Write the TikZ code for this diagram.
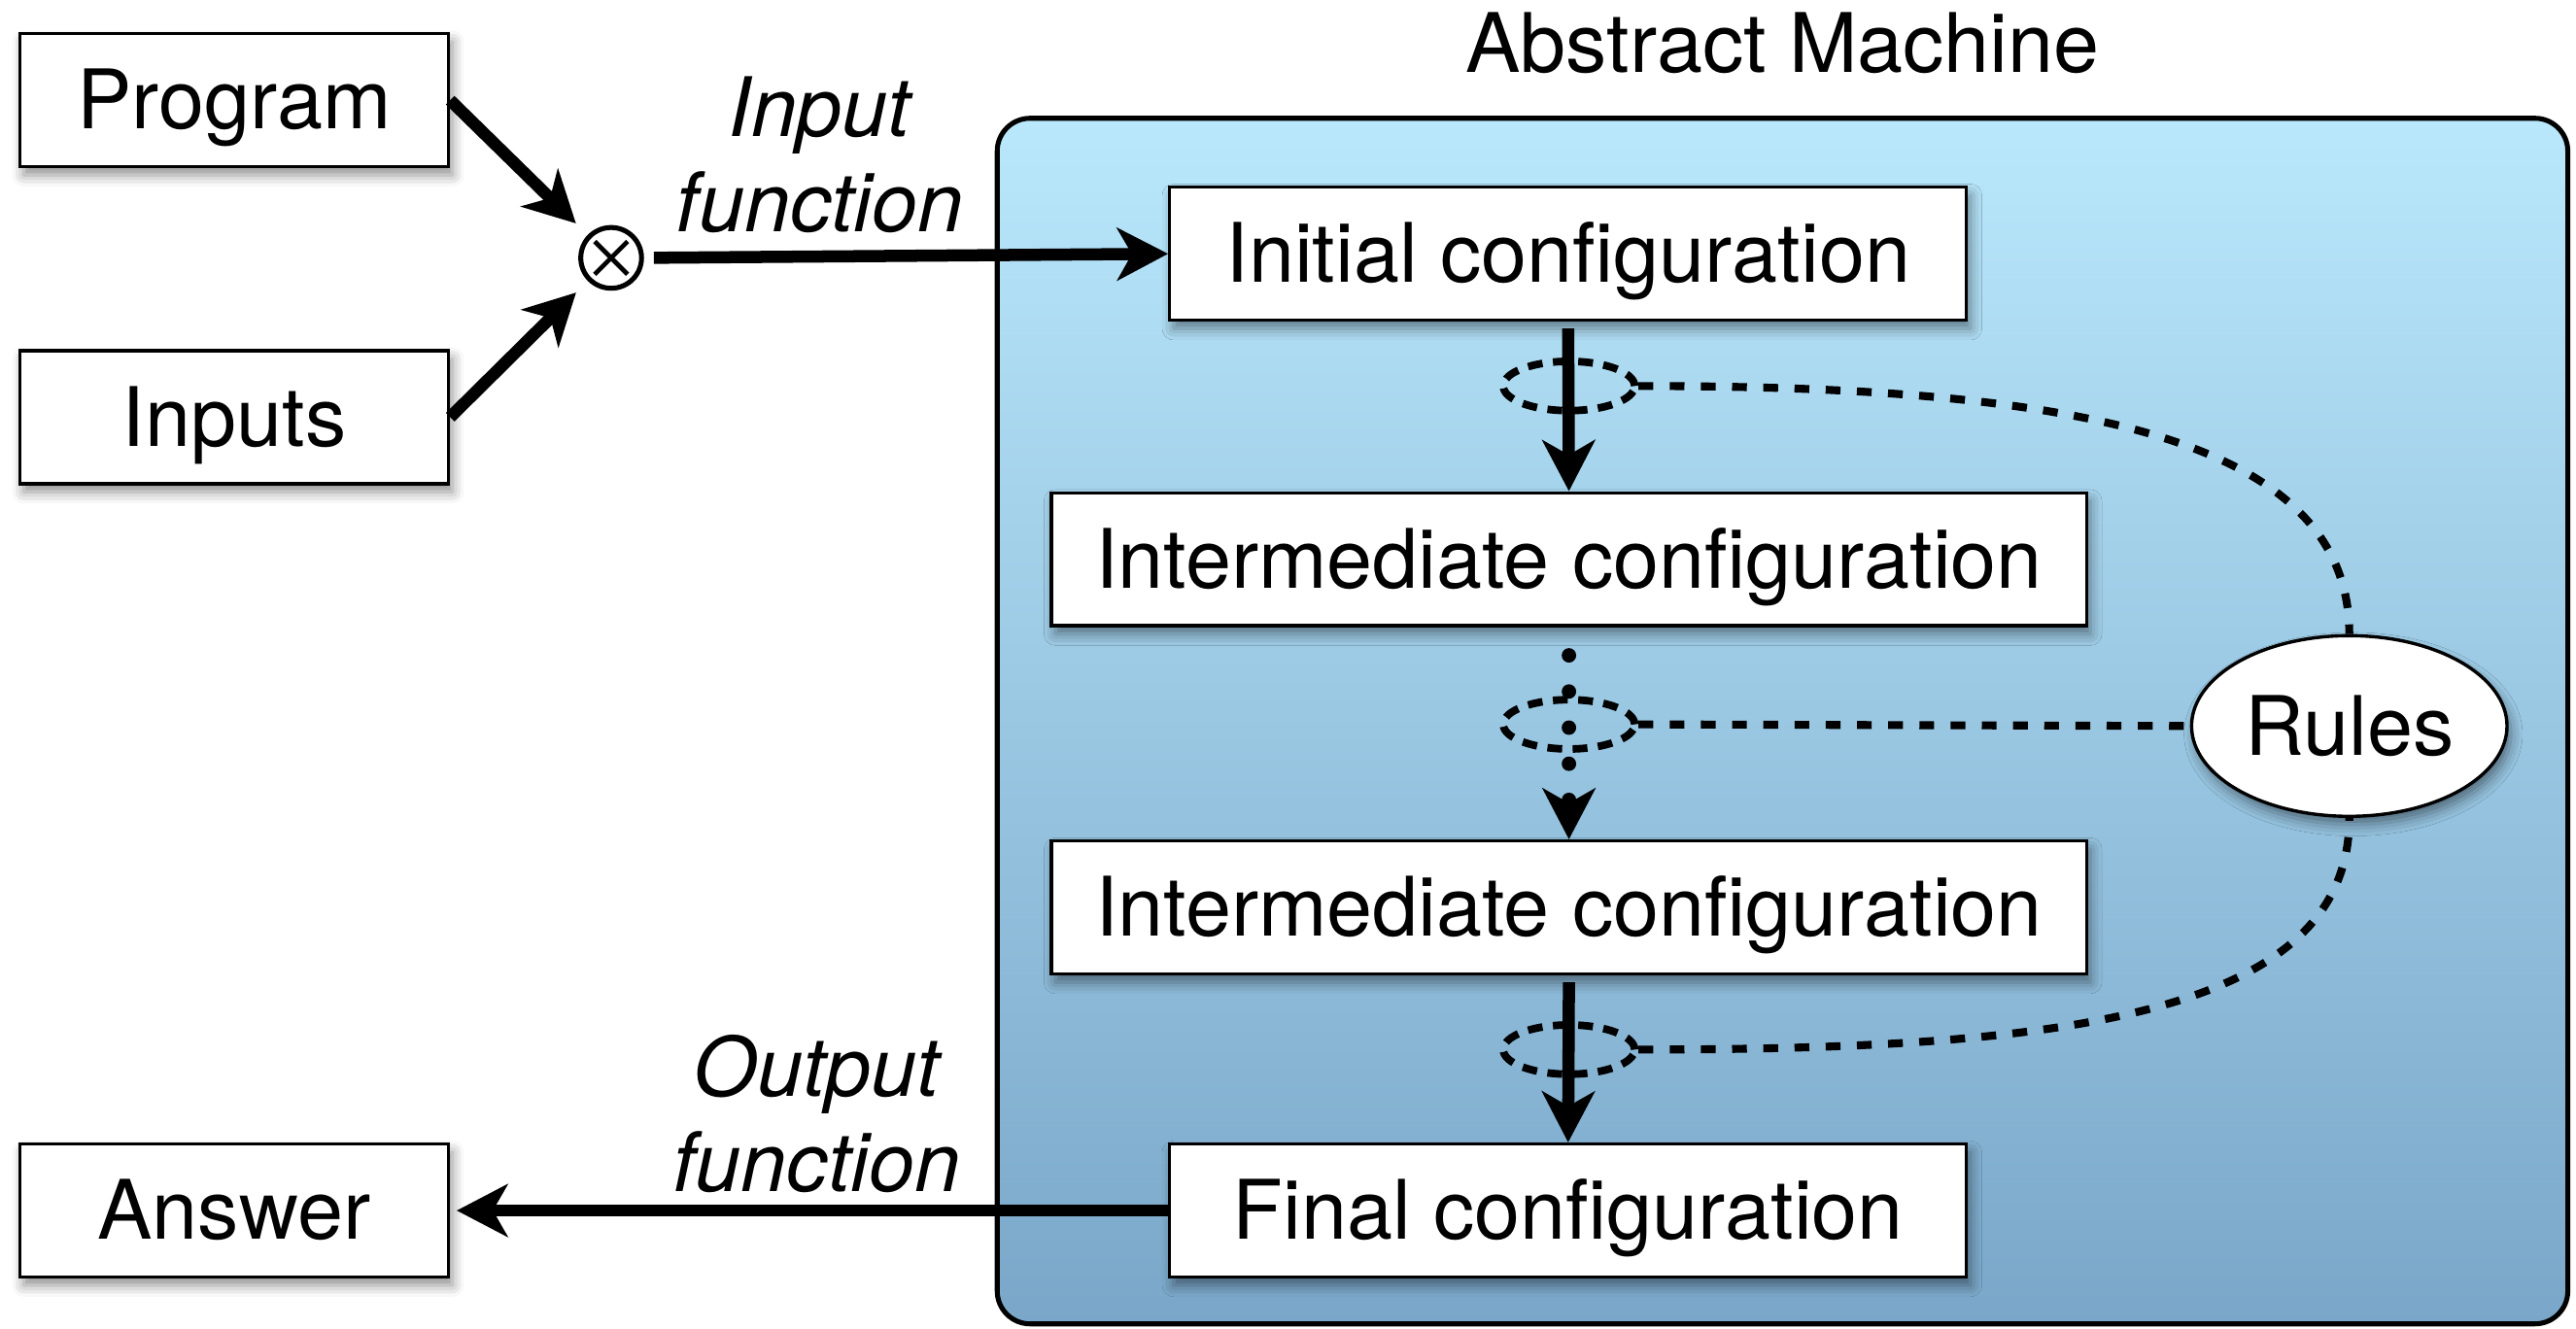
\documentclass[tikz,border=0pt]{standalone}
\usepackage{fontspec}
\setmainfont{TeX Gyre Heros}
\usetikzlibrary{arrows.meta,shapes.geometric,shadows.blur}
\definecolor{machtop}{RGB}{185,231,251}
\definecolor{machbot}{RGB}{122,167,201}
\begin{document}
\begin{tikzpicture}[x=0.5pt,y=-0.5pt,
  txt/.style={font=\fontsize{25}{29}\selectfont},
  shad/.style={blur shadow={shadow xshift=1.2pt, shadow yshift=-2.5pt, shadow blur radius=3.5pt, shadow opacity=45}},
  box/.style={draw, line width=1pt, fill=white, inner sep=0pt, minimum height=40.5pt,
              txt, text height=21pt, text depth=3.5pt, shad},
  bigarrow/.style={line width=3.7pt, -{Stealth[length=15.5pt,width=16pt,inset=4.5pt]}},
  dotarrow/.style={line width=4.4pt, line cap=round, dash pattern=on 0pt off 11pt,
              -{Stealth[length=15.5pt,width=16pt,inset=4.5pt]}},
  dashlink/.style={line width=2.4pt, dash pattern=on 4.5pt off 5pt},
  ring/.style={ellipse, draw, line width=2.3pt, dash pattern=on 4.5pt off 3.2pt,
              minimum width=40pt, minimum height=15pt, inner sep=0pt}
]
\useasboundingbox (0,0) rectangle (1568,809);

% container
\node[draw, line width=1.5pt, rounded corners=10pt, top color=machtop, bottom color=machbot,
      minimum width=478pt, minimum height=367pt, inner sep=0pt] (machine) at (1085,439) {};
\node[txt] (title) at (1085,26) {Abstract Machine};

% left boxes
\node[box, minimum width=130.5pt] (program) at (142.5,61) {Program};
\node[box, minimum width=130.5pt] (inputs) at (142.5,254) {Inputs};
\node[box, minimum width=130.5pt] (answer) at (142.5,737) {Answer};

% configurations
\node[box, minimum width=242.5pt] (initial) at (954.5,154.5) {Initial configuration};
\node[box, minimum width=315pt] (inter1) at (955,340.5) {Intermediate configuration};
\node[box, minimum width=315pt] (inter2) at (955,552.5) {Intermediate configuration};
\node[box, minimum width=242.5pt] (final) at (954.5,737) {Final configuration};

\node[ellipse, draw, line width=1pt, fill=white, minimum width=96pt, minimum height=55pt,
      inner sep=0pt, txt, shad] (rules) at (1430,442) {Rules};

% tensor
\node[circle, draw, line width=1.5pt, minimum size=18.5pt, inner sep=0pt] (ot) at (372,157) {};
\draw[line width=1.4pt] ([shift={(-10,-10)}]ot.center) -- ([shift={(10,10)}]ot.center);
\draw[line width=1.4pt] ([shift={(-10,10)}]ot.center) -- ([shift={(10,-10)}]ot.center);

% labels
\node[txt, align=center, font=\fontsize{25}{29}\selectfont\itshape] (inlab) at (499,94) {Input\\function};
\node[txt, align=center, font=\fontsize{25}{29}\selectfont\itshape] (outlab) at (497,678) {Output\\function};

% input arrows
\draw[bigarrow, shorten >=5pt] (program.east) -- (ot);
\draw[bigarrow, shorten >=5pt] (inputs.east) -- (ot);
\draw[bigarrow, shorten <=3pt] (ot.east) -- (initial.west);
\draw[bigarrow, shorten >=2pt] (final.west) -- (answer.east);

% steps
\draw[bigarrow, shorten <=2pt] (initial.south) -- (inter1.north);
\draw[dotarrow, shorten <=8.5pt] (inter1.south) -- (inter2.north);
\draw[bigarrow, shorten <=2pt] (inter2.south) -- (final.north);

% rule rings
\node[ring] (r1) at (955,235) {};
\node[ring] (r2) at (955,441) {};
\node[ring] (r3) at (955,639) {};

\draw[dashlink] (r1.east) .. controls (1250,235) and (1430,262) .. (rules.north);
\draw[dashlink] (r2.east) -- (rules.west);
\draw[dashlink] (r3.east) .. controls (1250,639) and (1430,620) .. (rules.south);
\end{tikzpicture}
\end{document}
